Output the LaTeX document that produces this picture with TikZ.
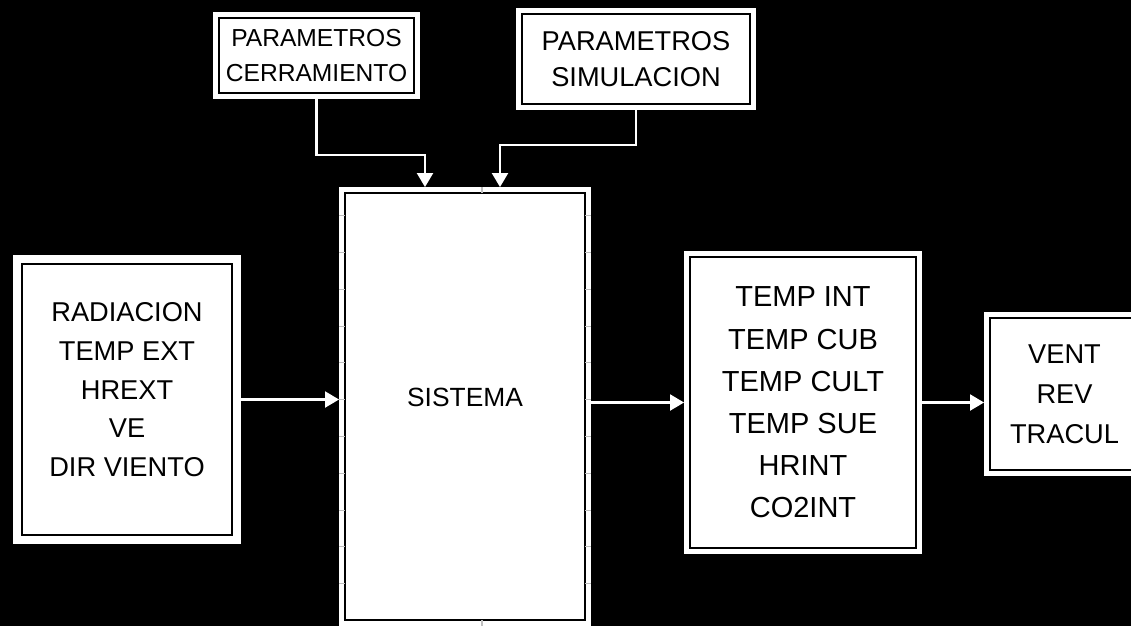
\documentclass[tikz,border=0pt]{standalone}
\usepackage{fontspec}
\setmainfont{Liberation Sans}
\usetikzlibrary{arrows.meta}

\tikzset{
    bloque/.style={draw=black, fill=white, line width=1.1pt, align=center,
        inner sep=0pt, outer sep=0.12cm,
        preaction={draw=white, line width=0.24cm}},
    flecha/.style={draw=white, line width=1.2pt,
        -{Triangle[length=0.28cm,width=0.32cm]}},
    marca/.style={draw=black!25, line width=0.6pt}
}

\begin{document}
\begin{tikzpicture}[x=0.02cm, y=-0.02cm]
    % Fondo
    \useasboundingbox (0,0) rectangle (1131,626);
    \fill[black] (0,0) rectangle (1131,626);
    \clip (0,0) rectangle (1131,626);

    % Parametros (arriba)
    \node[bloque, minimum width=3.9cm, minimum height=1.5cm,
        font=\fontsize{14}{19.8}\selectfont] (cerr) at (316.5,55.5)
        {PARAMETROS\\CERRAMIENTO};
    \node[bloque, minimum width=4.56cm, minimum height=1.8cm,
        font=\fontsize{15.5}{20.4}\selectfont] (simu) at (636,59)
        {PARAMETROS\\SIMULACION};

    % Sistema
    \node[bloque, minimum width=4.8cm, minimum height=8.54cm,
        font=\fontsize{15}{18}\selectfont, text depth=0.38cm] (sist) at (465,406.5) {SISTEMA};

    % Entradas
    \node[bloque, minimum width=4.2cm, minimum height=5.42cm,
        font=\fontsize{15.5}{22}\selectfont, text depth=0.4cm,
        preaction={draw=white, line width=0.36cm}] (ent) at (127,399.5)
        {RADIACION\\TEMP EXT\\HREXT\\VE\\DIR VIENTO};

    % Salidas
    \node[bloque, minimum width=4.52cm, minimum height=5.82cm,
        font=\fontsize{16.5}{24}\selectfont] (sal) at (803,402.5)
        {TEMP INT\\TEMP CUB\\TEMP CULT\\TEMP SUE\\HRINT\\CO2INT};

    % Acciones
    \node[bloque, minimum width=2.98cm, minimum height=3.04cm,
        font=\fontsize{15.5}{22.7}\selectfont] (acc) at (1064.5,394)
        {VENT\\REV\\TRACUL};

    % Marcas del sistema
    \foreach \k in {0,...,10} {
        \draw[marca] (339,{215.7+36.8*\k}) -- (345,{215.7+36.8*\k});
        \draw[marca] (585,{215.7+36.8*\k}) -- (591,{215.7+36.8*\k});
    }
    \draw[marca] (482,187) -- (482,193);
    \draw[marca] (482,620) -- (482,626);

    % Flechas
    \coordinate (pA) at (425,155);
    \coordinate (pB) at (500,145);
    \draw[flecha] (cerr.south) |- (pA) -- (pA |- sist.north);
    \draw[flecha] (simu.south) |- (pB) -- (pB |- sist.north);
    \draw[flecha] (ent.east) -- (ent.east -| sist.west);
    \draw[flecha] (sal.west -| sist.east) -- (sal.west);
    \draw[flecha] (sal.east) -- (sal.east -| acc.west);
\end{tikzpicture}
\end{document}
